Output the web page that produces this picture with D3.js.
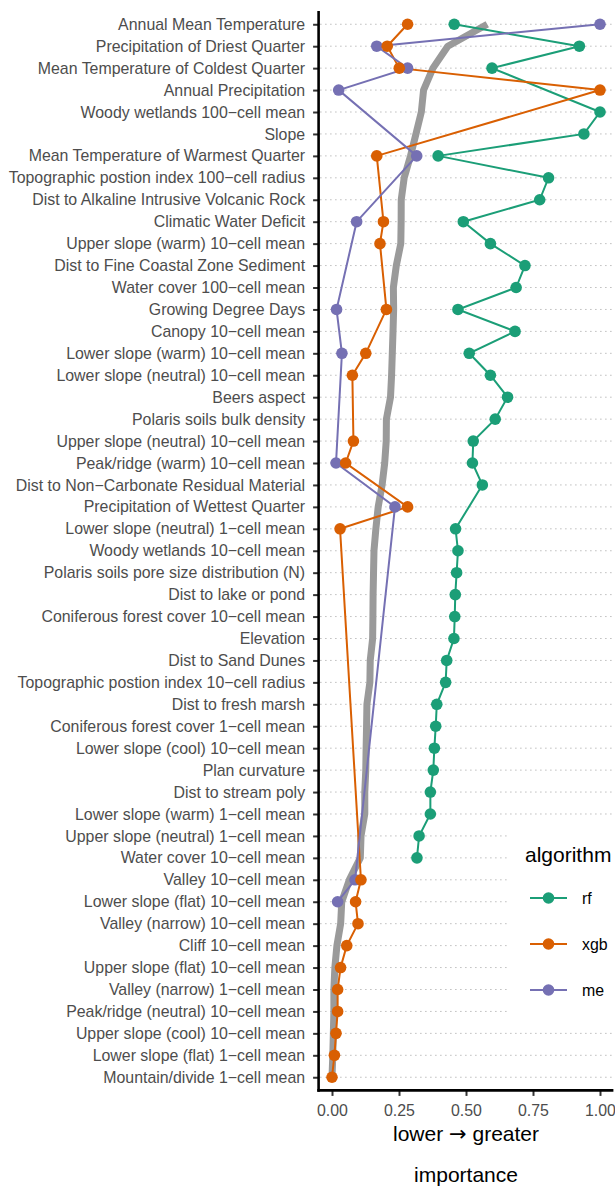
<!DOCTYPE html>
<html>
<head>
<meta charset="utf-8">
<script src="https://cdn.jsdelivr.net/npm/d3@7"></script>
<style>
    body { margin: 0; background: #fff; }
    text { font-family: "Liberation Sans", Arial, sans-serif; }
</style>
</head>
<body>
<div id="chart"></div>
<script>

// Variables, ordered top to bottom
const variables = [
    "Annual Mean Temperature", "Precipitation of Driest Quarter", "Mean Temperature of Coldest Quarter",
    "Annual Precipitation", "Woody wetlands 100\u2212cell mean", "Slope",
    "Mean Temperature of Warmest Quarter", "Topographic postion index 100\u2212cell radius",
    "Dist to Alkaline Intrusive Volcanic Rock", "Climatic Water Deficit", "Upper slope (warm) 10\u2212cell mean",
    "Dist to Fine Coastal Zone Sediment", "Water cover 100\u2212cell mean", "Growing Degree Days",
    "Canopy 10\u2212cell mean", "Lower slope (warm) 10\u2212cell mean", "Lower slope (neutral) 10\u2212cell mean",
    "Beers aspect", "Polaris soils bulk density", "Upper slope (neutral) 10\u2212cell mean",
    "Peak/ridge (warm) 10\u2212cell mean", "Dist to Non\u2212Carbonate Residual Material",
    "Precipitation of Wettest Quarter", "Lower slope (neutral) 1\u2212cell mean", "Woody wetlands 10\u2212cell mean",
    "Polaris soils pore size distribution (N)", "Dist to lake or pond", "Coniferous forest cover 10\u2212cell mean",
    "Elevation", "Dist to Sand Dunes", "Topographic postion index 10\u2212cell radius", "Dist to fresh marsh",
    "Coniferous forest cover 1\u2212cell mean", "Lower slope (cool) 10\u2212cell mean", "Plan curvature",
    "Dist to stream poly", "Lower slope (warm) 1\u2212cell mean", "Upper slope (neutral) 1\u2212cell mean",
    "Water cover 10\u2212cell mean", "Valley 10\u2212cell mean", "Lower slope (flat) 10\u2212cell mean",
    "Valley (narrow) 10\u2212cell mean", "Cliff 10\u2212cell mean", "Upper slope (flat) 10\u2212cell mean",
    "Valley (narrow) 1\u2212cell mean", "Peak/ridge (neutral) 10\u2212cell mean", "Upper slope (cool) 10\u2212cell mean",
    "Lower slope (flat) 1\u2212cell mean", "Mountain/divide 1\u2212cell mean"
];

// importance per algorithm (null = not in that model)
const rfImportance = [
    0.456, 0.923, 0.597, null, 1.0, 0.940, 0.396, 0.808, 0.775, 0.490,
    0.591, 0.720, 0.687, 0.470, 0.683, 0.512, 0.591, 0.655, 0.609, 0.527,
    0.524, 0.561, null, 0.461, 0.470, 0.465, 0.460, 0.458, 0.455, 0.428,
    0.424, 0.391, 0.387, 0.382, 0.378, 0.367, 0.367, 0.325, 0.317, null,
    null, null, null, null, null, null, null, null, null
];

const xgbImportance = [
    0.282, 0.206, 0.251, 1.0, null, null, 0.167, null, null, 0.192,
    0.179, null, null, 0.203, null, 0.126, 0.076, null, null, 0.080,
    0.051, null, 0.282, 0.030, null, null, null, null, null, null,
    null, null, null, null, null, null, null, null, null, 0.108,
    0.088, 0.097, 0.055, 0.032, 0.021, 0.021, 0.015, 0.009, 0.0
];

const meImportance = [
    1.0, 0.167, 0.282, 0.025, null, null, 0.316, null, null, 0.092,
    null, null, null, 0.017, null, 0.037, null, null, null, null,
    0.015, null, 0.235, null, null, null, null, null, null, null,
    null, null, null, null, null, null, null, null, null, 0.086,
    0.021, null, null, null, null, null, null, null, null
];

const algorithms = ["rf", "xgb", "me"];
const algorithmColors = ["#1B9E77", "#D95F02", "#7570B3"];
const xTicks = [0, 0.25, 0.5, 0.75, 1];
const xTickLabels = ["0.00", "0.25", "0.50", "0.75", "1.00"];


class ImportanceVis {

    constructor(parentElement) {
        this.parentElement = parentElement;
        this.initVis();
    }

    initVis() {
        let vis = this;

        vis.width = 615;
        vis.height = 1186;

        vis.svg = d3.select("#" + vis.parentElement).append("svg")
            .attr("width", vis.width)
            .attr("height", vis.height);

        // panel edges (ggplot style 5% / 0.6 expansion)
        vis.panel = {left: 318.6, right: 613.4, top: 11.1, bottom: 1090.4};

        vis.x = d3.scaleLinear()
            .domain([0, 1])
            .range([332, 600]);

        vis.y = d3.scalePoint()
            .domain(variables)
            .range([vis.panel.top, vis.panel.bottom])
            .padding(0.6);

        vis.color = d3.scaleOrdinal()
            .domain(algorithms)
            .range(algorithmColors);

        vis.wrangleData();
    }

    wrangleData() {
        let vis = this;

        let series = {rf: rfImportance, xgb: xgbImportance, me: meImportance};

        vis.seriesData = algorithms.map(function (a) {
            let values = [];
            variables.forEach(function (v, i) {
                if (series[a][i] !== null) values.push({variable: v, value: series[a][i]});
            });
            return {algorithm: a, values: values};
        });

        // mean importance across the three models (missing counts as 0)
        vis.meanData = variables.map(function (v, i) {
            return {
                variable: v,
                value: d3.sum(algorithms, function (a) { return series[a][i] || 0; }) / algorithms.length
            };
        });

        vis.updateVis();
    }

    updateVis() {
        let vis = this;

        // dotted horizontal grid
        vis.svg.append("g")
            .selectAll("line")
            .data(variables)
            .enter().append("line")
            .attr("x1", vis.panel.left + 1.5)
            .attr("x2", vis.panel.right)
            .attr("y1", function (d) { return vis.y(d); })
            .attr("y2", function (d) { return vis.y(d); })
            .attr("stroke", "#bdbdbd")
            .attr("stroke-width", 1)
            .attr("stroke-dasharray", "1.5,3.5");

        // mean line in grey
        let line = d3.line()
            .x(function (d) { return vis.x(d.value); })
            .y(function (d) { return vis.y(d.variable); });

        vis.svg.append("path")
            .attr("d", line(vis.meanData))
            .attr("fill", "none")
            .attr("stroke", "#9a9a9a")
            .attr("stroke-width", 7)
            .attr("stroke-linejoin", "round");

        // algorithm lines
        vis.svg.append("g")
            .selectAll("path")
            .data(vis.seriesData)
            .enter().append("path")
            .attr("d", function (d) { return line(d.values); })
            .attr("fill", "none")
            .attr("stroke", function (d) { return vis.color(d.algorithm); })
            .attr("stroke-width", 2);

        // points: rf, me, then xgb on top
        ["rf", "me", "xgb"].forEach(function (a) {
            let s = vis.seriesData.find(function (d) { return d.algorithm === a; });
            vis.svg.append("g")
                .selectAll("circle")
                .data(s.values)
                .enter().append("circle")
                .attr("cx", function (d) { return vis.x(d.value); })
                .attr("cy", function (d) { return vis.y(d.variable); })
                .attr("r", 5.8)
                .attr("fill", vis.color(a));
        });

        // legend background hides the grid
        vis.legend = vis.svg.append("g");

        vis.legend.append("rect")
            .attr("x", 510)
            .attr("y", 825)
            .attr("width", 110)
            .attr("height", 197)
            .attr("fill", "#fff");

        vis.legend.append("text")
            .attr("x", 525)
            .attr("y", 862)
            .attr("font-size", "21px")
            .attr("fill", "#000")
            .text("algorithm");

        let keys = vis.legend.selectAll(".key")
            .data(algorithms)
            .enter().append("g")
            .attr("class", "key")
            .attr("transform", function (d, i) { return "translate(0," + [898, 944, 990][i] + ")"; });

        keys.append("line")
            .attr("x1", 530)
            .attr("x2", 567)
            .attr("stroke", function (d) { return vis.color(d); })
            .attr("stroke-width", 2);

        keys.append("circle")
            .attr("cx", 548.5)
            .attr("r", 5.8)
            .attr("fill", function (d) { return vis.color(d); });

        keys.append("text")
            .attr("x", 582)
            .attr("dy", "0.35em")
            .attr("font-size", "15.9px")
            .attr("fill", "#000")
            .text(function (d) { return d; });

        // axes
        vis.yAxis = d3.axisLeft(vis.y)
            .tickSize(5.5)
            .tickSizeOuter(0)
            .tickPadding(8);

        vis.xAxis = d3.axisBottom(vis.x)
            .tickValues(xTicks)
            .tickFormat(function (d, i) { return xTickLabels[i]; })
            .tickSize(5.5)
            .tickSizeOuter(0)
            .tickPadding(8.4);

        let gy = vis.svg.append("g")
            .attr("transform", "translate(" + vis.panel.left + ",0)")
            .call(vis.yAxis);

        let gx = vis.svg.append("g")
            .attr("transform", "translate(0," + vis.panel.bottom + ")")
            .call(vis.xAxis);

        [gx, gy].forEach(function (g) {
            g.select(".domain").remove();
            g.selectAll(".tick line").attr("stroke", "#333").attr("stroke-width", 2);
            g.selectAll(".tick text")
                .attr("font-size", "15.9px")
                .attr("font-family", "Liberation Sans, Arial, sans-serif")
                .attr("fill", "#4d4d4d");
        });

        // axis lines
        vis.svg.append("line")
            .attr("x1", vis.panel.left).attr("x2", vis.panel.left)
            .attr("y1", vis.panel.top).attr("y2", vis.panel.bottom + 1.3)
            .attr("stroke", "#000").attr("stroke-width", 2.6);

        vis.svg.append("line")
            .attr("x1", vis.panel.left - 1.3).attr("x2", vis.panel.right)
            .attr("y1", vis.panel.bottom).attr("y2", vis.panel.bottom)
            .attr("stroke", "#000").attr("stroke-width", 2.6);

        // x title
        let xMid = (vis.panel.left + vis.panel.right) / 2;

        let t1 = vis.svg.append("text")
            .attr("x", xMid)
            .attr("y", 1141)
            .attr("text-anchor", "middle")
            .attr("font-size", "21px");
        t1.append("tspan").text("lower ");
        t1.append("tspan").attr("font-family", "DejaVu Sans").text("\u2192");
        t1.append("tspan").text(" greater");

        vis.svg.append("text")
            .attr("x", xMid)
            .attr("y", 1182)
            .attr("text-anchor", "middle")
            .attr("font-size", "21px")
            .text("importance");
    }
}

new ImportanceVis("chart");

</script>
</body>
</html>
